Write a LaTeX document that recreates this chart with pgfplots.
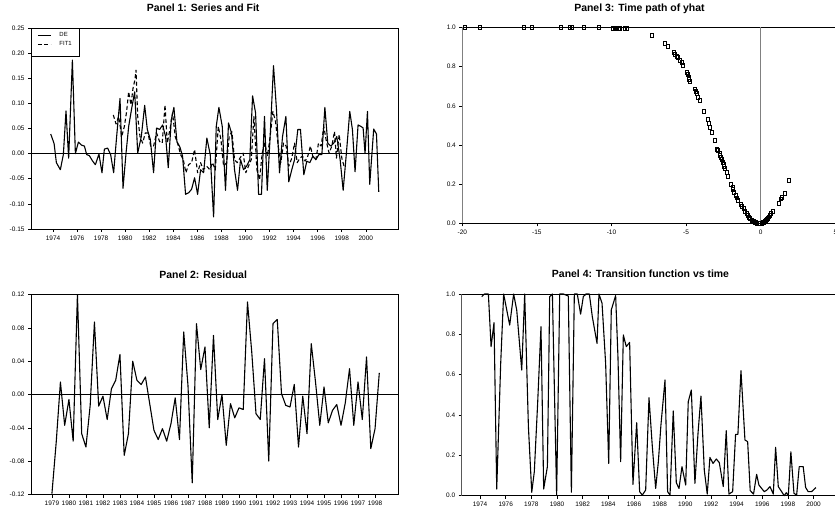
\documentclass[border=0pt]{standalone}
\usepackage{fontspec}
\setmainfont{Liberation Sans}
\usepackage{pgfplots}
\pgfplotsset{compat=1.18}
\pgfplotsset{
  evstyle/.style={
    scale only axis,
    axis line style={line width=0.8bp},
    tick style={black, line width=0.5bp},
    tick align=outside,
    tick pos=left,
    major tick length=3bp,
    minor tick length=2bp,
    tick label style={font=\fontsize{6.5}{7}\selectfont},
    /pgf/number format/assume math mode=true,
    title style={font=\bfseries\fontsize{10.5}{12}\selectfont, anchor=base, yshift=10.5bp},
    scaled ticks=false,
    xticklabel style={/pgf/number format/1000 sep={}},
  },
  serline/.style={black, line width=1.1bp, line join=round},
}
\begin{document}
\begin{tikzpicture}
% ---------------- Panel 1 ----------------
\begin{axis}[evstyle, at={(31bp,287bp)}, anchor=south west, width=367bp, height=201bp,
  xmin=1972.17, xmax=2002.68, ymin=-0.15, ymax=0.25,
  ytick={-0.15,-0.1,-0.05,0,0.05,0.1,0.15,0.2,0.25},
  yticklabel style={/pgf/number format/.cd, fixed, fixed zerofill, precision=2},
  xtick={1974,1976,...,2000}, minor x tick num=3,
  title={Panel 1: Series and Fit}, title style={at={(0.469,1)}},
  legend style={at={(0,1)}, anchor=north west, draw=black, line width=0.7bp,
    font=\fontsize{6}{7}\selectfont, inner xsep=6bp, inner ysep=2.5bp, row sep=-1bp},
  legend cell align=left,
  legend image code/.code={\draw[#1] (0bp,0bp) -- (13bp,0bp); \path (19bp,0bp);},
]
\draw[black, line width=0.8bp] (axis cs:1972.17,0) -- (axis cs:2002.68,0);
\addplot[serline] coordinates {
(1973.81,0.039) (1974.09,0.020) (1974.28,-0.018) (1974.61,-0.032) (1974.86,-0.002) (1975.08,0.085) (1975.30,-0.009) (1975.61,0.186) (1975.86,0.000) (1976.11,0.023) (1976.36,0.017) (1976.61,0.015) (1976.80,-0.002) (1977.02,-0.004) (1977.27,-0.014) (1977.52,-0.022) (1977.82,-0.001) (1978.07,-0.038) (1978.27,0.009) (1978.54,0.011) (1978.79,-0.002) (1979.04,-0.038) (1979.29,0.034) (1979.57,0.110) (1979.82,-0.069) (1980.07,0.001) (1980.29,0.054) (1980.54,0.090) (1980.79,0.123) (1981.04,0.001) (1981.34,0.034) (1981.62,0.096) (1981.84,0.048) (1982.09,0.028) (1982.36,-0.038) (1982.61,0.051) (1982.86,0.048) (1983.11,0.057) (1983.36,0.034) (1983.58,-0.028) (1983.83,0.067) (1984.05,0.092) (1984.30,0.024) (1984.55,0.013) (1984.77,-0.005) (1985.02,-0.081) (1985.27,-0.078) (1985.52,-0.071) (1985.77,-0.048) (1986.02,-0.081) (1986.27,-0.032) (1986.52,-0.038) (1986.79,0.031) (1987.07,-0.002) (1987.35,-0.126) (1987.57,0.054) (1987.79,0.092) (1988.07,0.054) (1988.34,-0.073) (1988.59,0.061) (1988.84,0.041) (1989.09,-0.032) (1989.34,-0.073) (1989.59,-0.012) (1989.84,-0.032) (1990.09,-0.025) (1990.36,-0.012) (1990.59,0.115) (1990.84,0.081) (1991.09,-0.081) (1991.33,-0.081) (1991.58,0.074) (1991.81,-0.073) (1992.05,0.034) (1992.33,0.175) (1992.58,0.087) (1992.83,-0.038) (1993.08,0.034) (1993.36,0.074) (1993.60,-0.056) (1993.85,-0.032) (1994.08,-0.012) (1994.35,0.048) (1994.57,0.048) (1994.85,-0.042) (1995.10,-0.015) (1995.35,-0.018) (1995.60,-0.005) (1995.85,-0.012) (1996.10,-0.002) (1996.35,-0.002) (1996.60,0.092) (1996.84,0.021) (1997.09,0.015) (1997.34,0.021) (1997.59,0.034) (1997.87,-0.012) (1998.12,-0.073) (1998.39,0.001) (1998.67,0.084) (1998.89,0.048) (1999.11,-0.036) (1999.36,0.057) (1999.61,0.054) (1999.78,0.051) (1999.94,0.000) (2000.14,0.084) (2000.33,-0.061) (2000.66,0.049) (2000.89,0.039) (2001.08,-0.076)
};
\addlegendentry{DE}
\addplot[serline, dash pattern=on 4bp off 2.5bp] coordinates {
(1979.01,0.077) (1979.24,0.059) (1979.46,0.074) (1979.71,0.034) (1979.93,0.054) (1980.12,0.084) (1980.29,0.123) (1980.48,0.097) (1980.65,0.130) (1980.81,0.147) (1980.90,0.166) (1981.04,0.074) (1981.23,0.034) (1981.45,0.021) (1981.67,0.041) (1981.89,0.041) (1982.12,0.015) (1982.36,0.015) (1982.61,0.041) (1982.86,0.024) (1983.08,0.021) (1983.31,0.097) (1983.50,0.021) (1983.72,0.048) (1983.94,0.081) (1984.16,0.034) (1984.39,0.018) (1984.61,-0.002) (1984.83,-0.012) (1985.05,-0.038) (1985.27,-0.022) (1985.52,-0.018) (1985.77,0.008) (1986.02,-0.038) (1986.27,-0.018) (1986.49,-0.032) (1986.77,-0.025) (1987.04,-0.032) (1987.26,-0.018) (1987.49,-0.032) (1987.74,0.054) (1987.96,0.028) (1988.18,-0.025) (1988.43,-0.018) (1988.65,0.034) (1988.87,0.044) (1989.09,-0.012) (1989.31,-0.018) (1989.54,-0.009) (1989.81,0.001) (1990.03,-0.038) (1990.25,-0.025) (1990.48,-0.012) (1990.70,0.074) (1990.95,-0.032) (1991.17,-0.052) (1991.39,0.001) (1991.61,0.021) (1991.83,-0.005) (1992.05,0.034) (1992.28,0.084) (1992.50,0.064) (1992.72,0.015) (1992.94,-0.018) (1993.16,0.021) (1993.38,0.015) (1993.60,-0.025) (1993.85,-0.009) (1994.08,0.021) (1994.30,-0.018) (1994.52,-0.009) (1994.74,-0.005) (1994.96,-0.015) (1995.18,-0.005) (1995.40,0.015) (1995.63,-0.009) (1995.85,-0.012) (1996.07,0.021) (1996.29,0.015) (1996.51,0.054) (1996.73,0.024) (1996.95,0.001) (1997.18,0.015) (1997.40,0.044) (1997.56,-0.009) (1997.79,0.038) (1998.01,-0.009) (1998.23,-0.028)
};
\addlegendentry{FIT1}
\addlegendimage{empty legend}\addlegendentry{}
\end{axis}
% ---------------- Panel 2 ----------------
\begin{axis}[evstyle, at={(31bp,21.5bp)}, anchor=south west, width=367bp, height=200bp,
  xmin=1977.77, xmax=1999.35, ymin=-0.12, ymax=0.12,
  ytick={-0.12,-0.08,-0.04,0,0.04,0.08,0.12},
  yticklabel style={/pgf/number format/.cd, fixed, fixed zerofill, precision=2},
  xtick={1979,1980,...,1998}, minor x tick num=3,
  title={Panel 2: Residual}, title style={at={(0.469,1)}},
]
\draw[black, line width=0.8bp] (axis cs:1977.77,0) -- (axis cs:1999.35,0);
\addplot[serline] coordinates {
(1979.00,-0.119) (1979.25,-0.058) (1979.50,0.015) (1979.75,-0.037) (1980.00,-0.006) (1980.25,-0.056) (1980.50,0.120) (1980.75,-0.047) (1981.00,-0.063) (1981.25,-0.013) (1981.50,0.087) (1981.75,-0.014) (1982.00,-0.002) (1982.25,-0.030) (1982.50,0.007) (1982.75,0.017) (1983.00,0.048) (1983.25,-0.073) (1983.50,-0.047) (1983.75,0.040) (1984.00,0.017) (1984.25,0.012) (1984.50,0.021) (1984.75,-0.011) (1985.00,-0.043) (1985.25,-0.054) (1985.50,-0.041) (1985.75,-0.056) (1986.00,-0.035) (1986.25,-0.004) (1986.50,-0.054) (1986.75,0.075) (1987.00,0.011) (1987.25,-0.106) (1987.50,0.085) (1987.75,0.030) (1988.00,0.057) (1988.25,-0.040) (1988.50,0.071) (1988.75,-0.030) (1989.00,0.000) (1989.25,-0.061) (1989.50,-0.011) (1989.75,-0.028) (1990.00,-0.016) (1990.25,-0.018) (1990.50,0.111) (1990.75,0.051) (1991.00,-0.023) (1991.25,-0.030) (1991.50,0.043) (1991.75,-0.080) (1992.00,0.085) (1992.25,0.090) (1992.50,0.001) (1992.75,-0.013) (1993.00,-0.015) (1993.25,0.012) (1993.50,-0.063) (1993.75,-0.002) (1994.00,-0.047) (1994.25,0.061) (1994.50,0.015) (1994.75,-0.037) (1995.00,0.009) (1995.25,-0.034) (1995.50,-0.019) (1995.75,-0.012) (1996.00,-0.037) (1996.25,-0.010) (1996.50,0.031) (1996.75,-0.037) (1997.00,0.015) (1997.25,-0.030) (1997.50,0.045) (1997.75,-0.065) (1998.00,-0.041) (1998.25,0.026)
};
\end{axis}
% ---------------- Panel 3 ----------------
\begin{axis}[evstyle, at={(462.3bp,292.7bp)}, anchor=south west, width=373bp, height=195.8bp,
  xmin=-20, xmax=5, ymin=0, ymax=1, clip=false,
  axis line style={draw=none},
  xtick={-20,-15,-10,-5,0,5},
  ytick={0,0.2,0.4,0.6,0.8,1},
  yticklabel style={/pgf/number format/.cd, fixed, fixed zerofill, precision=1},
  title={Panel 3: Time path of yhat}, title style={at={(0.475,1)}},
]
\draw[black, line width=0.8bp] (rel axis cs:0,0) -- (rel axis cs:1,0);
\draw[black, line width=0.8bp] (rel axis cs:0,1) -- (rel axis cs:1,1);
\draw[gray, line width=0.9bp] (rel axis cs:0,0) -- (rel axis cs:0,1);
\draw[gray, line width=0.9bp] (axis cs:0,0) -- (axis cs:0,1);
\addplot[only marks, mark=square, mark size=1.5bp, mark options={black, line width=0.6bp, yscale=1.3}] coordinates {
(-19.82,0.999) (-18.82,0.999) (-15.91,0.999) (-15.35,0.999) (-13.39,0.999) (-12.78,0.999) (-12.67,0.999) (-11.89,0.999) (-10.82,0.999) (-9.88,0.998) (-9.77,0.998) (-9.65,0.997) (-9.54,0.997) (-9.43,0.997) (-9.10,0.996) (-8.98,0.996)
(-7.31,0.959) (-6.46,0.917) (-6.26,0.905) (-5.85,0.874) (-5.75,0.865) (-5.62,0.852) (-5.56,0.849) (-5.41,0.832) (-5.30,0.820) (-5.23,0.806) (-4.96,0.772) (-4.90,0.760) (-4.85,0.747) (-4.80,0.735) (-4.74,0.724) (-4.40,0.687) (-4.33,0.672) (-4.29,0.662) (-4.20,0.645) (-4.07,0.628) (-3.84,0.571) (-3.55,0.531) (-3.48,0.512) (-3.40,0.491) (-3.28,0.466) (-3.11,0.423) (-2.92,0.380) (-2.88,0.372) (-2.77,0.358) (-2.72,0.345) (-2.68,0.336) (-2.62,0.325) (-2.55,0.313) (-2.50,0.300) (-2.45,0.290) (-2.39,0.279) (-2.30,0.260) (-2.21,0.241) (-1.98,0.200) (-1.90,0.185) (-1.84,0.172) (-1.79,0.160) (-1.70,0.145) (-1.62,0.130) (-1.54,0.117) (-1.35,0.095) (-1.25,0.085) (-1.16,0.075) (-1.05,0.062) (-0.94,0.049) (-0.85,0.040) (-0.78,0.030) (-0.72,0.024) (-0.62,0.017) (-0.55,0.013) (-0.49,0.010) (-0.40,0.006) (-0.33,0.004) (-0.27,0.002) (-0.15,0.001) (-0.05,0.000) (0.05,0.001) (0.12,0.004) (0.18,0.007) (0.26,0.010) (0.33,0.015) (0.40,0.020) (0.48,0.027) (0.55,0.033) (0.63,0.041) (0.70,0.050) (0.78,0.061) (1.23,0.100) (1.37,0.125) (1.41,0.134) (1.59,0.151) (1.85,0.219)
};
\end{axis}
% ---------------- Panel 4 ----------------
\begin{axis}[evstyle, at={(461.7bp,20.3bp)}, anchor=south west, width=373.3bp, height=201.7bp,
  xmin=1972.57, xmax=2001.67, ymin=0, ymax=1, clip=false,
  axis line style={draw=none},
  xtick={1974,1976,...,2000}, minor x tick num=7,
  ytick={0,0.2,0.4,0.6,0.8,1},
  yticklabel style={/pgf/number format/.cd, fixed, fixed zerofill, precision=1},
  title={Panel 4: Transition function vs time}, title style={at={(0.479,1)}},
]
\draw[black, line width=0.8bp] (rel axis cs:0,0) -- (rel axis cs:1,0);
\draw[black, line width=0.8bp] (rel axis cs:0,1) -- (rel axis cs:1,1);
\draw[gray!70!black, line width=0.9bp] (rel axis cs:0,0) -- (rel axis cs:0,1);
\addplot[serline] coordinates {
(1974.13,0.987) (1974.34,1.000) (1974.65,1.000) (1974.86,0.739) (1975.09,0.858) (1975.30,0.033) (1975.61,0.656) (1975.84,1.000) (1976.31,0.846) (1976.62,1.000) (1976.86,0.920) (1977.25,0.623) (1977.48,1.000) (1977.77,0.342) (1978.03,0.017) (1978.23,0.119) (1978.49,0.458) (1978.75,0.838) (1978.96,0.033) (1979.25,0.144) (1979.43,0.987) (1979.64,1.000) (1979.97,0.003) (1980.21,1.000) (1980.49,1.000) (1980.88,0.990) (1981.12,0.017) (1981.35,1.000) (1981.58,1.000) (1981.84,0.900) (1982.05,0.987) (1982.26,1.000) (1982.52,1.000) (1982.75,0.888) (1983.12,0.755) (1983.27,1.000) (1983.51,0.954) (1983.79,0.656) (1984.03,0.160) (1984.23,0.921) (1984.57,0.992) (1984.75,0.689) (1984.96,0.169) (1985.17,0.797) (1985.40,0.739) (1985.66,0.760) (1985.92,0.056) (1986.21,0.362) (1986.44,0.020) (1986.65,0.003) (1986.91,0.028) (1987.17,0.486) (1987.43,0.243) (1987.69,0.036) (1987.90,0.169) (1988.10,0.350) (1988.42,0.574) (1988.62,0.020) (1988.81,0.003) (1989.06,0.420) (1989.30,0.064) (1989.51,0.036) (1989.74,0.144) (1990.03,0.053) (1990.23,0.466) (1990.47,0.524) (1990.75,0.061) (1990.99,0.309) (1991.22,0.494) (1991.48,0.127) (1991.71,0.008) (1991.92,0.190) (1992.16,0.160) (1992.42,0.182) (1992.65,0.164) (1992.96,0.045) (1993.19,0.322) (1993.40,0.008) (1993.69,0.020) (1993.92,0.304) (1994.10,0.304) (1994.34,0.620) (1994.65,0.276) (1994.86,0.268) (1995.06,0.025) (1995.32,0.008) (1995.56,0.106) (1995.74,0.053) (1995.95,0.036) (1996.16,0.020) (1996.36,0.028) (1996.60,0.045) (1996.86,0.008) (1997.04,0.240) (1997.25,0.045) (1997.51,0.020) (1997.71,0.000) (1997.87,0.015) (1998.03,0.000) (1998.23,0.218) (1998.47,0.012) (1998.68,0.003) (1998.88,0.144) (1999.19,0.144) (1999.38,0.041) (1999.58,0.020) (1999.84,0.020) (2000.18,0.040)
};
\end{axis}
\pgfresetboundingbox
\path[use as bounding box] (0,0) rectangle (835bp,516bp);
\end{tikzpicture}
\end{document}
